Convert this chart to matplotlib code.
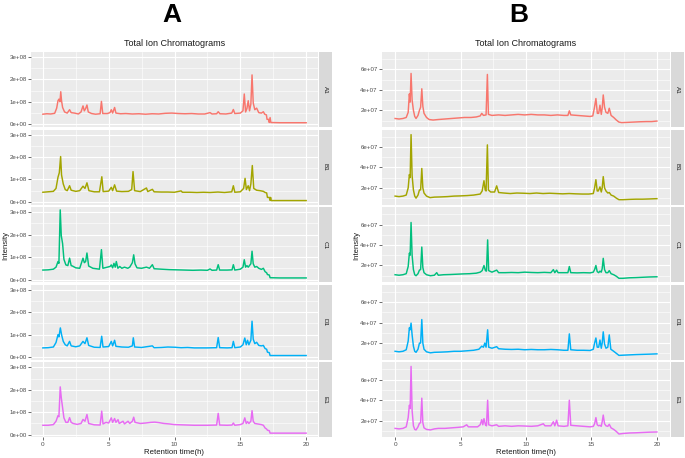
import matplotlib
matplotlib.use("Agg")
import matplotlib.pyplot as plt
from matplotlib.ticker import FixedLocator

plt.rcParams['font.family'] = ['Liberation Sans', 'DejaVu Sans']

# ---- data (time in h, intensity) ----
samples = ['A1', 'B1', 'C1', 'D1', 'E1']
colors = ['#F8766D', '#A3A500', '#00BF7D', '#00B0F6', '#E76BF3']
x_ticks = [0, 5, 10, 15, 20]
a_y_ticks = [0, 1, 2, 3]          # x 1e8
a_y_labels = ['0e+00', '1e+08', '2e+08', '3e+08']
b_y_ticks = [2, 4, 6]             # x 1e7
b_y_labels = ['2e+07', '4e+07', '6e+07']

# panel A, intensity in 1e8
a_A1 = [(0.0, 0.45), (0.3, 0.47), (0.6, 0.46), (0.9, 0.49), (1.05, 0.72), (1.15, 1.05), (1.22, 1.12), (1.3, 1.0),
        (1.36, 1.45), (1.42, 1.05), (1.5, 0.75), (1.65, 0.55), (1.85, 0.5), (2.03, 0.65), (2.15, 0.52), (2.4, 0.5),
        (2.7, 0.46), (2.9, 0.55), (3.05, 0.82), (3.15, 0.6), (3.25, 0.7), (3.35, 0.86), (3.45, 0.55), (3.7, 0.48),
        (4.0, 0.45), (4.35, 0.47), (4.45, 1.02), (4.55, 0.48), (4.9, 0.48), (5.1, 0.52), (5.2, 0.65), (5.3, 0.5),
        (5.45, 0.75), (5.55, 0.5), (5.9, 0.47), (6.3, 0.48), (6.8, 0.46), (7.3, 0.47), (7.8, 0.45), (8.3, 0.47),
        (8.8, 0.46), (9.3, 0.49), (9.8, 0.5), (10.3, 0.48), (10.8, 0.47), (11.3, 0.48), (11.8, 0.46), (12.3, 0.46),
        (12.7, 0.52), (12.85, 0.46), (13.2, 0.47), (13.32, 0.56), (13.45, 0.47), (13.9, 0.46), (14.35, 0.5),
        (14.47, 0.66), (14.58, 0.48), (15.0, 0.5), (15.2, 0.6), (15.3, 1.35), (15.4, 0.55), (15.5, 0.7),
        (15.6, 1.05), (15.7, 0.6), (15.8, 0.9), (15.89, 2.2), (15.98, 0.95), (16.1, 0.65), (16.24, 0.72),
        (16.4, 0.52), (16.6, 0.5), (16.75, 0.56), (16.85, 0.45), (16.98, 0.42), (17.03, 0.22), (17.15, 0.22),
        (17.2, 0.08), (17.26, 0.3), (17.32, 0.08), (18.0, 0.07), (19.0, 0.07), (20.0, 0.07)]
a_B1 = [(0.0, 0.43), (0.4, 0.45), (0.8, 0.47), (1.0, 0.6), (1.15, 1.1), (1.25, 1.3), (1.35, 2.02), (1.42, 1.2),
        (1.55, 0.8), (1.7, 0.55), (1.85, 0.5), (2.03, 0.72), (2.15, 0.52), (2.5, 0.47), (2.8, 0.5), (3.05, 0.7),
        (3.2, 0.6), (3.35, 0.85), (3.5, 0.5), (3.9, 0.45), (4.3, 0.45), (4.48, 1.12), (4.58, 0.46), (5.0, 0.48),
        (5.2, 0.65), (5.3, 0.5), (5.45, 0.76), (5.6, 0.48), (6.0, 0.46), (6.5, 0.47), (6.75, 0.55), (6.85, 1.35),
        (6.97, 0.5), (7.4, 0.46), (7.87, 0.62), (7.97, 0.46), (8.32, 0.56), (8.45, 0.45), (9.0, 0.44), (9.5, 0.44),
        (10.0, 0.43), (10.5, 0.49), (10.6, 0.43), (11.2, 0.43), (11.7, 0.42), (12.2, 0.43), (12.7, 0.42),
        (13.3, 0.44), (13.8, 0.42), (14.35, 0.45), (14.47, 0.72), (14.58, 0.43), (15.0, 0.45), (15.25, 0.6),
        (15.36, 1.05), (15.46, 0.55), (15.6, 0.72), (15.7, 0.5), (15.8, 0.8), (15.91, 1.62), (16.02, 0.6),
        (16.24, 0.52), (16.5, 0.5), (16.75, 0.47), (16.88, 0.42), (17.0, 0.4), (17.06, 0.2), (17.2, 0.2),
        (17.26, 0.07), (17.3, 0.2), (17.35, 0.06), (18.5, 0.06), (20.0, 0.06)]
a_C1 = [(0.0, 0.42), (0.4, 0.43), (0.8, 0.46), (1.0, 0.55), (1.15, 0.8), (1.22, 0.72), (1.32, 3.1), (1.4, 1.95),
        (1.5, 1.6), (1.6, 0.9), (1.75, 0.65), (1.9, 0.62), (2.03, 0.95), (2.15, 0.62), (2.25, 0.6), (2.5, 0.52),
        (2.8, 0.5), (3.05, 0.95), (3.15, 0.75), (3.25, 0.8), (3.35, 1.18), (3.48, 0.6), (3.8, 0.5), (4.3, 0.46),
        (4.45, 1.33), (4.56, 0.5), (4.9, 0.55), (5.1, 0.58), (5.2, 0.65), (5.3, 0.52), (5.4, 0.72), (5.5, 0.55),
        (5.58, 0.8), (5.7, 0.5), (5.84, 0.58), (6.0, 0.5), (6.2, 0.55), (6.45, 0.5), (6.6, 0.55), (6.8, 0.75),
        (6.9, 1.1), (7.0, 0.7), (7.15, 0.52), (7.5, 0.5), (7.87, 0.55), (8.1, 0.5), (8.32, 0.66), (8.45, 0.48),
        (9.0, 0.46), (9.6, 0.44), (10.2, 0.43), (10.8, 0.42), (11.4, 0.41), (12.0, 0.42), (12.5, 0.41),
        (12.7, 0.47), (12.85, 0.41), (13.2, 0.42), (13.32, 0.66), (13.43, 0.42), (14.0, 0.42), (14.37, 0.43),
        (14.47, 0.66), (14.58, 0.42), (15.0, 0.46), (15.2, 0.55), (15.3, 0.88), (15.4, 0.55), (15.5, 0.62),
        (15.6, 0.55), (15.8, 0.7), (15.89, 1.26), (15.98, 0.7), (16.1, 0.55), (16.24, 0.58), (16.4, 0.5),
        (16.6, 0.45), (16.75, 0.5), (16.88, 0.35), (17.0, 0.3), (17.06, 0.22), (17.2, 0.2), (17.26, 0.08),
        (18.0, 0.07), (20.0, 0.07)]
a_D1 = [(0.0, 0.41), (0.4, 0.42), (0.8, 0.45), (1.0, 0.65), (1.15, 1.0), (1.22, 0.9), (1.33, 1.3), (1.42, 1.0),
        (1.55, 0.7), (1.7, 0.55), (1.85, 0.5), (2.03, 0.7), (2.15, 0.5), (2.5, 0.46), (2.8, 0.5), (3.05, 0.7),
        (3.2, 0.6), (3.35, 0.86), (3.48, 0.52), (3.9, 0.44), (4.35, 0.43), (4.47, 0.93), (4.57, 0.45), (5.0, 0.47),
        (5.2, 0.7), (5.3, 0.5), (5.45, 0.75), (5.55, 0.48), (6.0, 0.45), (6.5, 0.44), (6.8, 0.5), (6.87, 0.86),
        (6.97, 0.45), (7.5, 0.43), (8.32, 0.5), (8.45, 0.42), (9.0, 0.43), (9.5, 0.45), (10.0, 0.44), (10.5, 0.42),
        (11.0, 0.43), (11.5, 0.41), (12.0, 0.41), (12.5, 0.41), (13.2, 0.42), (13.32, 0.87), (13.43, 0.42),
        (14.0, 0.41), (14.37, 0.42), (14.47, 0.7), (14.58, 0.42), (15.0, 0.45), (15.2, 0.55), (15.34, 0.85),
        (15.45, 0.55), (15.55, 0.75), (15.65, 0.55), (15.8, 0.75), (15.89, 1.6), (15.98, 0.8), (16.1, 0.6),
        (16.24, 0.66), (16.4, 0.52), (16.6, 0.5), (16.75, 0.52), (16.88, 0.38), (17.0, 0.35), (17.06, 0.22),
        (17.2, 0.2), (17.26, 0.07), (18.0, 0.07), (20.0, 0.07)]
a_E1 = [(0.0, 0.42), (0.4, 0.42), (0.8, 0.45), (1.0, 0.6), (1.15, 0.85), (1.22, 0.8), (1.32, 2.13), (1.4, 1.65),
        (1.5, 1.2), (1.6, 0.75), (1.75, 0.55), (1.9, 0.55), (2.03, 0.76), (2.15, 0.55), (2.3, 0.5), (2.6, 0.46),
        (2.9, 0.5), (3.05, 0.68), (3.2, 0.6), (3.35, 0.9), (3.48, 0.5), (3.9, 0.44), (4.35, 0.43), (4.47, 1.05),
        (4.57, 0.48), (4.8, 0.55), (5.0, 0.52), (5.2, 0.75), (5.3, 0.55), (5.45, 0.72), (5.55, 0.55), (5.71, 0.67),
        (5.8, 0.5), (6.09, 0.6), (6.2, 0.48), (6.47, 0.6), (6.6, 0.5), (6.8, 0.6), (6.9, 0.78), (7.0, 0.55),
        (7.4, 0.5), (7.8, 0.52), (8.2, 0.55), (8.5, 0.56), (8.8, 0.54), (9.2, 0.5), (9.6, 0.48), (10.0, 0.45),
        (10.5, 0.44), (11.0, 0.43), (11.5, 0.42), (12.0, 0.42), (12.5, 0.42), (13.2, 0.43), (13.32, 0.95),
        (13.43, 0.43), (14.0, 0.42), (14.37, 0.43), (14.47, 0.52), (14.58, 0.42), (15.0, 0.45), (15.2, 0.5),
        (15.34, 0.75), (15.45, 0.5), (15.55, 0.58), (15.65, 0.5), (15.8, 0.6), (15.89, 1.07), (15.98, 0.6),
        (16.1, 0.5), (16.4, 0.47), (16.6, 0.45), (16.75, 0.42), (16.88, 0.3), (17.0, 0.25), (17.06, 0.2),
        (17.2, 0.18), (17.26, 0.07), (18.0, 0.07), (20.0, 0.07)]

# panel B, intensity in 1e7
b_A1 = [(0.0, 1.2), (0.3, 1.15), (0.6, 1.2), (0.85, 1.3), (1.0, 1.8), (1.09, 3.6), (1.15, 2.8), (1.22, 5.6),
        (1.3, 3.0), (1.4, 2.0), (1.5, 1.4), (1.6, 1.2), (1.75, 1.5), (1.86, 2.0), (1.95, 2.3), (2.04, 4.1),
        (2.12, 2.4), (2.21, 1.7), (2.4, 1.3), (2.6, 1.1), (2.9, 1.05), (3.3, 1.1), (3.8, 1.15), (4.3, 1.2),
        (4.8, 1.25), (5.3, 1.3), (5.8, 1.3), (6.2, 1.35), (6.5, 1.45), (6.62, 1.7), (6.75, 1.5), (6.95, 1.55),
        (7.05, 5.5), (7.13, 1.6), (7.4, 1.5), (7.9, 1.55), (8.4, 1.5), (8.9, 1.55), (9.4, 1.6), (9.9, 1.55),
        (10.4, 1.6), (10.9, 1.55), (11.4, 1.55), (11.9, 1.5), (12.4, 1.55), (12.9, 1.5), (13.2, 1.5),
        (13.31, 1.95), (13.42, 1.55), (13.9, 1.5), (14.4, 1.45), (14.9, 1.4), (15.1, 1.45), (15.22, 2.2),
        (15.34, 3.15), (15.45, 1.7), (15.55, 1.7), (15.65, 2.5), (15.75, 1.6), (15.82, 2.2), (15.9, 3.5),
        (16.0, 2.3), (16.11, 1.8), (16.25, 1.7), (16.36, 2.2), (16.5, 1.5), (16.7, 1.3), (16.9, 1.05),
        (17.1, 0.85), (17.3, 0.8), (17.7, 0.82), (18.2, 0.85), (18.7, 0.88), (19.2, 0.9), (19.6, 0.9), (20.0, 0.95)]
b_B1 = [(0.0, 1.2), (0.3, 1.15), (0.6, 1.2), (0.85, 1.3), (1.0, 2.0), (1.09, 3.3), (1.15, 3.0), (1.22, 7.2),
        (1.3, 3.2), (1.4, 1.8), (1.5, 1.2), (1.6, 1.0), (1.75, 1.3), (1.86, 1.8), (1.95, 1.8), (2.04, 3.9),
        (2.12, 2.0), (2.21, 1.5), (2.4, 1.2), (2.67, 1.05), (3.0, 1.1), (3.5, 1.12), (4.0, 1.15), (4.5, 1.2),
        (5.0, 1.22), (5.5, 1.25), (6.0, 1.3), (6.5, 1.4), (6.65, 1.7), (6.79, 2.7), (6.88, 1.8), (6.95, 1.7),
        (7.05, 6.2), (7.13, 1.8), (7.3, 1.6), (7.6, 1.6), (7.76, 2.2), (7.91, 1.55), (8.3, 1.5), (8.8, 1.45),
        (9.3, 1.5), (9.8, 1.48), (10.3, 1.45), (10.8, 1.5), (11.3, 1.45), (11.8, 1.48), (12.3, 1.45),
        (12.8, 1.42), (13.3, 1.45), (13.8, 1.42), (14.3, 1.4), (14.8, 1.4), (15.14, 1.45), (15.24, 2.0),
        (15.34, 2.8), (15.44, 1.7), (15.52, 1.7), (15.65, 2.1), (15.75, 1.6), (15.82, 2.0), (15.9, 3.1),
        (16.0, 2.0), (16.11, 1.7), (16.25, 1.5), (16.36, 1.55), (16.5, 1.3), (16.7, 1.2), (16.9, 1.0),
        (17.1, 0.85), (17.4, 0.85), (17.9, 0.88), (18.4, 0.9), (18.9, 0.9), (19.4, 0.92), (20.0, 0.95)]
b_C1 = [(0.0, 1.1), (0.3, 1.05), (0.6, 1.1), (0.85, 1.2), (1.0, 1.9), (1.09, 3.2), (1.15, 3.0), (1.22, 6.2),
        (1.3, 3.0), (1.4, 1.6), (1.5, 1.1), (1.6, 1.0), (1.75, 1.2), (1.86, 1.55), (1.95, 1.6), (2.04, 3.8),
        (2.12, 1.8), (2.21, 1.3), (2.4, 1.1), (2.7, 1.0), (3.0, 1.05), (3.18, 1.3), (3.3, 1.05), (3.7, 1.1),
        (4.2, 1.12), (4.7, 1.15), (5.2, 1.18), (5.7, 1.2), (6.2, 1.25), (6.5, 1.35), (6.65, 1.5), (6.79, 2.0),
        (6.9, 1.5), (6.98, 1.45), (7.07, 4.5), (7.15, 1.5), (7.4, 1.35), (7.76, 1.55), (7.91, 1.3), (8.4, 1.3),
        (8.9, 1.32), (9.4, 1.3), (9.9, 1.35), (10.4, 1.32), (10.9, 1.3), (11.4, 1.33), (11.9, 1.3), (12.09, 1.6),
        (12.2, 1.3), (12.34, 1.55), (12.45, 1.3), (12.9, 1.3), (13.2, 1.3), (13.31, 1.9), (13.42, 1.3),
        (13.9, 1.28), (14.4, 1.3), (14.9, 1.28), (15.14, 1.35), (15.24, 1.6), (15.34, 2.0), (15.44, 1.4),
        (15.55, 1.3), (15.65, 1.45), (15.75, 1.35), (15.82, 1.7), (15.9, 2.7), (16.0, 1.6), (16.11, 1.3),
        (16.25, 1.3), (16.36, 1.5), (16.5, 1.2), (16.7, 1.1), (16.9, 0.95), (17.1, 0.75), (17.4, 0.75),
        (17.9, 0.8), (18.4, 0.82), (18.9, 0.85), (19.4, 0.88), (20.0, 0.9)]
b_D1 = [(0.0, 1.2), (0.3, 1.15), (0.6, 1.2), (0.85, 1.35), (1.0, 2.2), (1.09, 3.5), (1.15, 3.3), (1.22, 3.95),
        (1.3, 2.8), (1.4, 1.7), (1.5, 1.2), (1.6, 1.1), (1.75, 1.4), (1.86, 2.0), (1.95, 2.0), (2.04, 4.3),
        (2.12, 2.0), (2.21, 1.4), (2.4, 1.15), (2.7, 1.05), (3.0, 1.1), (3.5, 1.12), (4.0, 1.15), (4.5, 1.2),
        (5.0, 1.2), (5.5, 1.25), (6.0, 1.3), (6.4, 1.4), (6.62, 1.7), (6.75, 1.6), (6.85, 2.0), (6.95, 1.6),
        (7.07, 3.3), (7.15, 1.6), (7.4, 1.5), (7.76, 1.65), (7.91, 1.45), (8.4, 1.4), (8.9, 1.38), (9.4, 1.4),
        (9.9, 1.35), (10.4, 1.38), (10.9, 1.35), (11.4, 1.35), (11.9, 1.38), (12.4, 1.35), (12.9, 1.3),
        (13.2, 1.3), (13.31, 2.9), (13.42, 1.35), (13.9, 1.3), (14.4, 1.3), (14.9, 1.28), (15.14, 1.4),
        (15.24, 2.0), (15.34, 2.5), (15.44, 1.6), (15.55, 1.6), (15.65, 2.3), (15.75, 1.5), (15.82, 2.0),
        (15.9, 3.1), (16.0, 1.9), (16.11, 1.5), (16.25, 1.6), (16.36, 2.8), (16.48, 1.4), (16.7, 1.2),
        (16.9, 1.0), (17.1, 0.8), (17.4, 0.82), (17.9, 0.85), (18.4, 0.88), (18.9, 0.9), (19.4, 0.92), (20.0, 0.95)]
b_E1 = [(0.0, 1.25), (0.3, 1.2), (0.6, 1.25), (0.85, 1.4), (1.0, 2.3), (1.09, 3.5), (1.15, 3.2), (1.22, 7.3),
        (1.3, 3.0), (1.4, 1.5), (1.5, 1.15), (1.6, 1.1), (1.75, 1.4), (1.86, 1.75), (1.95, 1.8), (2.04, 4.2),
        (2.12, 1.8), (2.21, 1.3), (2.4, 1.15), (2.7, 1.1), (3.0, 1.2), (3.3, 1.25), (3.8, 1.25), (4.3, 1.3),
        (4.8, 1.35), (5.2, 1.4), (5.47, 1.6), (5.6, 1.4), (6.0, 1.4), (6.3, 1.4), (6.5, 1.6), (6.62, 2.1),
        (6.7, 1.6), (6.79, 2.2), (6.9, 1.6), (6.98, 1.5), (7.07, 4.0), (7.15, 1.6), (7.4, 1.5), (7.76, 1.6),
        (7.91, 1.45), (8.4, 1.5), (8.9, 1.45), (9.4, 1.5), (9.9, 1.48), (10.4, 1.45), (10.9, 1.5), (11.32, 1.7),
        (11.45, 1.5), (11.9, 1.5), (12.09, 1.9), (12.2, 1.5), (12.34, 2.05), (12.45, 1.5), (12.9, 1.45),
        (13.2, 1.5), (13.31, 4.0), (13.42, 1.55), (13.9, 1.5), (14.4, 1.45), (14.9, 1.4), (15.14, 1.45),
        (15.24, 1.7), (15.34, 2.3), (15.44, 1.6), (15.55, 1.5), (15.65, 1.55), (15.75, 1.45), (15.82, 1.9),
        (15.9, 2.55), (16.0, 1.7), (16.11, 1.5), (16.25, 1.45), (16.36, 1.65), (16.5, 1.3), (16.7, 1.15),
        (16.9, 0.95), (17.1, 0.7), (17.4, 0.75), (17.9, 0.8), (18.4, 0.82), (18.9, 0.85), (19.4, 0.88), (20.0, 0.9)]

panel_a = [a_A1, a_B1, a_C1, a_D1, a_E1]
panel_b = [b_A1, b_B1, b_C1, b_D1, b_E1]

W, H = 685, 458
fig = plt.figure(figsize=(W / 100, H / 100), dpi=100)


def px_axes(x0, y0, x1, y1):
    # box in pixel coords, origin top-left
    return fig.add_axes([x0 / W, 1 - y1 / H, (x1 - x0) / W, (y1 - y0) / H])


def draw_panel(traces, left, right, xlim, ylim, yticks, ylabels, yminor, ylab_x, title_letter, letter_x):
    tops = [52 + i * 77.6 for i in range(5)]
    for i, (trace, top) in enumerate(zip(traces, tops)):
        ax = px_axes(left, top, right, top + 75)
        ax.set_facecolor('#EBEBEB')
        for s in ax.spines.values():
            s.set_visible(False)
        t = [p[0] for p in trace]
        v = [p[1] for p in trace]
        ax.plot(t, v, color=colors[i], lw=1.05, solid_joinstyle='round')
        ax.set_xlim(*xlim)
        ax.set_ylim(*ylim)
        ax.xaxis.set_major_locator(FixedLocator(x_ticks))
        ax.xaxis.set_minor_locator(FixedLocator([2.5, 7.5, 12.5, 17.5]))
        ax.yaxis.set_major_locator(FixedLocator(yticks))
        ax.yaxis.set_minor_locator(FixedLocator(yminor))
        ax.set_yticklabels(ylabels)
        ax.grid(which='major', color='white', lw=0.8)
        ax.grid(which='minor', color='white', lw=0.4)
        ax.set_axisbelow(True)
        ax.tick_params(axis='y', which='major', length=2, width=0.5, color='#333333',
                       labelsize=4.4, labelcolor='#4D4D4D', pad=1)
        ax.tick_params(which='minor', length=0)
        if i == 4:
            ax.tick_params(axis='x', which='major', length=2, width=0.5, color='#333333',
                           labelsize=4.6, labelcolor='#4D4D4D', pad=1.5)
            ax.set_xlabel('Retention time(h)', fontsize=5.6, color='#1A1A1A', labelpad=1)
        else:
            ax.tick_params(axis='x', which='major', length=0, labelbottom=False)
        # facet strip
        st = px_axes(right + 1, top, right + 14, top + 75)
        st.set_facecolor('#D9D9D9')
        st.set_xticks([])
        st.set_yticks([])
        for s in st.spines.values():
            s.set_visible(False)
        st.text(0.5, 0.5, samples[i], rotation=-90, ha='center', va='center',
                fontsize=4.6, color='#1A1A1A', transform=st.transAxes)
    cx = (left + right) / 2
    fig.text(cx / W, 1 - 44 / H, 'Total Ion Chromatograms', ha='center', va='center',
             fontsize=6.5, color='#1A1A1A')
    fig.text(ylab_x / W, 1 - 245 / H, 'Intensity', rotation=90, ha='center', va='center',
             fontsize=5.6, color='#1A1A1A')
    fig.text(letter_x / W, 1 - 15 / H, title_letter, ha='center', va='center',
             fontsize=19, fontweight='bold', color='black')


draw_panel(panel_a, 31, 318, (-0.9, 20.9), (-0.12, 3.22), a_y_ticks, a_y_labels,
           [0.5, 1.5, 2.5], 6, 'A', 172)
draw_panel(panel_b, 382, 670, (-1, 21), (0.37, 7.69), b_y_ticks, b_y_labels,
           [1, 3, 5, 7], 357, 'B', 519)

fig.savefig('out.png', dpi=100)
